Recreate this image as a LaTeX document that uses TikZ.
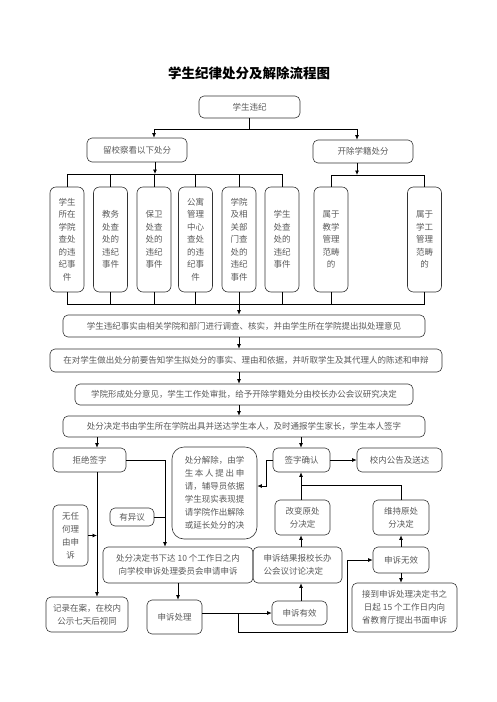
\documentclass[tikz,border=0pt]{standalone}
\usepackage{fontspec}
\newfontfamily\cjk{Noto Sans CJK SC}
\usetikzlibrary{arrows.meta}

\begin{document}
\begin{tikzpicture}[x=1pt, y=-1pt,
  box/.style={draw=black!80, line width=0.6pt, rounded corners=5pt, inner sep=0pt,
    align=center, text=black!65, font=\cjk\fontsize{8.5}{13}\selectfont},
  vbox/.style={box, rounded corners=6pt, minimum width=34pt, minimum height=105pt,
    font=\cjk\fontsize{8.5}{12.5}\selectfont},
  ln/.style={line width=0.8pt},
  arr/.style={line width=0.8pt, -{Latex[length=4.5pt,width=4pt]}}]
\useasboundingbox (0,0) rectangle (496,702);

\node (title) at (249,73) {\cjk\bfseries\fontsize{13.5}{16}\selectfont 学生纪律处分及解除流程图};

\node (wj) [box, minimum width=101pt, minimum height=22pt] at (249.5,107) {学生违纪};
\node (lx) [box, minimum width=100pt, minimum height=24pt] at (137,150) {留校察看以下处分};
\node (kc) [box, minimum width=100pt, minimum height=23pt] at (363,151.5) {开除学籍处分};

\node (b1) [vbox] at (67,239.5) {学生\\所在\\学院\\查处\\的违\\纪事\\件};
\node (b2) [vbox] at (110.5,239.5) {教务\\处查\\处的\\违纪\\事件};
\node (b3) [vbox] at (154,239.5) {保卫\\处查\\处的\\违纪\\事件};
\node (b4) [vbox] at (195.5,239.5) {公寓\\管理\\中心\\查处\\的违\\纪事\\件};
\node (b5) [vbox] at (239,239.5) {学院\\及相\\关部\\门查\\处的\\违纪\\事件};
\node (b6) [vbox] at (282,239.5) {学生\\处查\\处的\\违纪\\事件};
\node (b7) [vbox] at (331,239.5) {属于\\教学\\管理\\范畴\\的};
\node (b8) [vbox] at (424.5,239.5) {属于\\学工\\管理\\范畴\\的};

\node (r1) [box, minimum width=362pt, minimum height=22pt] at (244,326) {学生违纪事实由相关学院和部门进行调查、核实，并由学生所在学院提出拟处理意见};
\node (r2) [box, minimum width=392pt, minimum height=23pt] at (246,360.5) {在对学生做出处分前要告知学生拟处分的事实、理由和依据，并听取学生及其代理人的陈述和申辩};
\node (r3) [box, minimum width=338pt, minimum height=21pt] at (244,394.5) {学院形成处分意见，学生工作处审批，给予开除学籍处分由校长办公会议研究决定};
\node (r4) [box, minimum width=362pt, minimum height=21pt] at (244,426.5) {处分决定书由学生所在学院出具并送达学生本人，及时通报学生家长，学生本人签字};

\node (jj) [box, minimum width=73pt, minimum height=24pt] at (89.5,460) {拒绝签字};
\node (qr) [box, minimum width=57pt, minimum height=24pt] at (301.5,460) {签字确认};
\node (gg) [box, minimum width=85pt, minimum height=24pt] at (399.5,460) {校内公告及送达};
\node (jc) [box, rounded corners=12pt, minimum width=85pt, minimum height=92pt, align=left] at (214.5,493)
  {处分解除，由学\\\hbox to 59.5pt{生\hfill 本\hfill 人\hfill 提\hfill 出\hfill 申}\\请，辅导员依据\\学生现实表现提\\请学院作出解除\\或延长处分的决};
\node (wr) [box, minimum width=35pt, minimum height=61pt] at (70.5,535.5) {无任\\何理\\由申\\诉};
\node (yy) [box, minimum width=44pt, minimum height=18pt] at (132,517) {有异议};
\node (gb) [box, minimum width=55pt, minimum height=35pt] at (302.5,517.5) {改变原处\\分决定};
\node (wc) [box, minimum width=56pt, minimum height=35pt] at (401,517.5) {维持原处\\分决定};
\node (ss) [box, minimum width=150pt, minimum height=36pt] at (178,565) {处分决定书下达 10 个工作日之内\\向学校申诉处理委员会申请申诉};
\node (jg) [box, minimum width=89pt, minimum height=36pt, align=left] at (297.5,565) {申诉结果报校长办\\公会议讨论决定};
\node (wx) [box, minimum width=56pt, minimum height=26pt] at (401,560) {申诉无效};
\node (sf) [box, minimum width=105pt, minimum height=49pt] at (404.5,607.5) {接到申诉处理决定书之\\日起 15 个工作日内向\\省教育厅提出书面申诉};
\node (jl) [box, minimum width=82pt, minimum height=35pt] at (87,614.5) {记录在案，在校内\\公示七天后视同};
\node (cl) [box, minimum width=55pt, minimum height=34pt] at (174.5,617) {申诉处理};
\node (yx) [box, minimum width=55pt, minimum height=24pt] at (299.5,613) {申诉有效};

\coordinate (bus0) at (0,129);
\coordinate (bus1) at (0,174);
\coordinate (bus2) at (0,175);
\coordinate (bus3) at (0,304);
\coordinate (xl) at (97,0);
\coordinate (xm) at (165,0);
\coordinate (xc) at (239,0);
\coordinate (xr) at (301,0);
\coordinate (sp) at (238,613);
\coordinate (sq) at (347,632);

\draw [arr] (wj.south) -- (wj.south |- bus0) -| ([xshift=17pt]lx.north);
\draw [arr] (wj.south) -- (wj.south |- bus0) -| ([xshift=-6pt]kc.north);

\draw [arr] ([xshift=18pt]lx.south) -- ([xshift=18pt]lx.south |- bus1);
\draw [ln] (b1.north) |- (b6.north |- bus1) -- (b6.north);
\draw [ln] (b2.north) -- (b2.north |- bus1);
\draw [ln] (b3.north) -- (b3.north |- bus1);
\draw [ln] (b4.north) -- (b4.north |- bus1);
\draw [ln] (b5.north) -- (b5.north |- bus1);
\draw [arr] ([xshift=-6pt]kc.south) -- ([xshift=-6pt]kc.south |- bus2);
\draw [ln] (b7.north) |- (b8.north |- bus2) -- (b8.north);

\draw [ln] (b1.south) |- (b8.south |- bus3) -- (b8.south);
\draw [ln] (b2.south) -- (b2.south |- bus3);
\draw [ln] (b3.south) -- (b3.south |- bus3);
\draw [ln] (b4.south) -- (b4.south |- bus3);
\draw [ln] (b5.south) -- (b5.south |- bus3);
\draw [ln] (b6.south) -- (b6.south |- bus3);
\draw [ln] (b7.south) -- (b7.south |- bus3);

\draw [arr] (xc |- bus3) -- (xc |- r1.north);
\draw [arr] (xc |- r1.south) -- (xc |- r2.north);
\draw [arr] (xc |- r2.south) -- (xc |- r3.north);
\draw [arr] (xc |- r3.south) -- (xc |- r4.north);

\draw [arr] (xl |- r4.south) -- (xl |- jj.north);
\draw [arr] (xr |- r4.south) -- (xr |- qr.north);
\draw [arr] (xl |- jj.south) -- (xl |- jl.north);
\draw [arr] (wr.east) -- (wr.east -| xl);
\draw [arr] (jj.east) -| (xm |- ss.north);
\draw [ln] (yy.east) -- (yy.east -| xm);

\draw [arr] (qr.east) -- (gg.west);
\draw [arr] (qr.west) -- ++(-6,0) |- ([yshift=7pt]jc.east);
\draw [arr] (xr |- gb.north) -- (xr |- qr.south);
\draw [ln] (wc.north) |- ([yshift=-13pt]qr.south);
\draw [arr] (xr |- jg.north) -- (xr |- gb.south);
\draw [arr] (xr |- yx.north) -- (xr |- jg.south);
\draw [arr] (wx.north) -- (wc.south);
\draw [arr] (wx.south) -- (wx.south |- sf.north);

\draw [arr] (ss.south) -- (ss.south |- cl.north);
\draw [arr] (yx.west -| cl.east) -- (yx.west);
\draw [arr] (sp) |- (sq) |- (wx.west);
\end{tikzpicture}
\end{document}
